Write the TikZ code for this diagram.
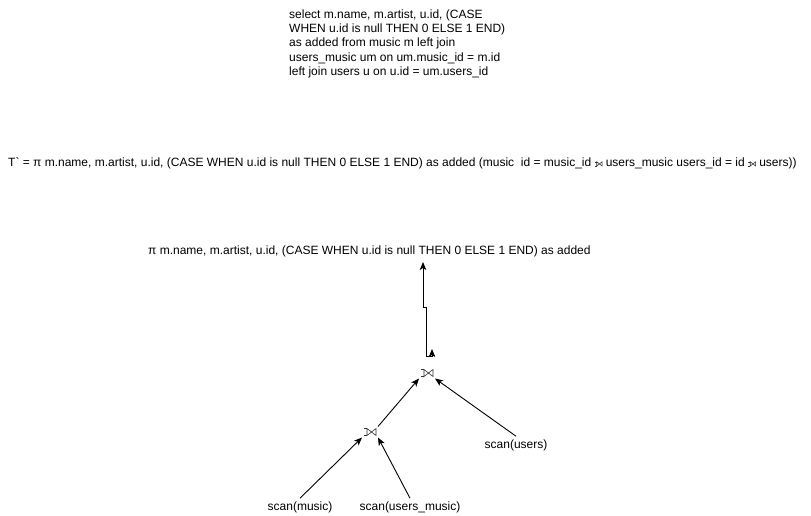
\documentclass[tikz,border=0pt]{standalone}
\usepackage{fontspec}
\setmainfont{Liberation Sans}[Ligatures=TeXOff]
\usepackage{tikz}
\usetikzlibrary{arrows.meta,positioning}

% left outer join sign, drawn (no installed font has it)
\newcommand{\ljoin}[1][1]{\tikz[x=#1pt, y=#1pt, baseline=0pt, line width=0.6pt, black!80]{%
  \draw (0,0) -- (0,7) -- (9,0) -- (9,7) -- cycle;
  \draw (-3,0) -- (0,0) (-3,7) -- (0,7);}}

\begin{document}
\begin{tikzpicture}[
  x=1pt, y=-1pt,
  font=\fontsize{12}{14.4}\selectfont,
  txt/.style={inner sep=0pt, anchor=base west},
  op/.style={inner sep=1.5pt},
  leaf/.style={inner sep=3pt},
  arr/.style={-{Stealth[length=8pt, width=6.5pt, inset=2pt]}, line width=0.9pt}
]
\useasboundingbox (0,0) rectangle (811,516);
% --- query text ---
\node[txt, anchor=north west, align=left] (sql) at (289,9.3) {select m.name, m.artist, u.id, (CASE\\
  WHEN u.id is null THEN 0 ELSE 1 END)\\
  as added from music m left join\\
  users\_music um on um.music\_id = m.id\\
  left join users u on u.id = um.users\_id};
\node[txt] (tdef) at (8,166) {T` = π m.name, m.artist, u.id, (CASE WHEN u.id is null THEN 0 ELSE 1 END) as added (music~ id = music\_id \ljoin[0.6] users\_music users\_id = id \ljoin[0.6] users))};
% --- plan tree ---
\node[txt] (proj) at (148,254) {π m.name, m.artist, u.id, (CASE WHEN u.id is null THEN 0 ELSE 1 END) as added};
\node[op] (j2) at (427,373) {\ljoin};
\node[op] (j1) at (370,432) {\ljoin};
\node[leaf] (scanu) at (516,445) {scan(users)};
\node[leaf] (scanm) at (300,507) {scan(music)};
\node[leaf] (scanum) at (410,507) {scan(users\_music)};
% --- arrows ---
\coordinate (k1) at (426,356);
\coordinate (k2) at (423,307);
\coordinate (k3) at (432,349);
\draw[arr] (k1) -- (k1 |- k2) -- (k2) -- (k2 |- 0,262);
\draw[arr] (k1) -| (k3);
\draw[arr] (scanm.north) -- (j1.south west);
\draw[arr] (scanum.north) -- (j1.south east);
\draw[arr] (j1.north east) -- (j2.south west);
\draw[arr] (scanu.north) -- (j2.south east);
\end{tikzpicture}
\end{document}
